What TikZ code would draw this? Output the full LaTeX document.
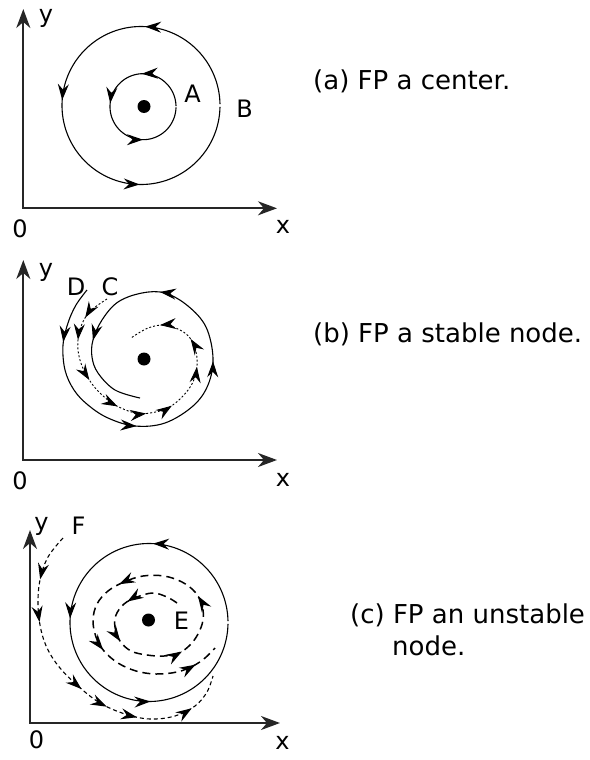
\documentclass[tikz,border=0pt]{standalone}
\usepackage{fontspec}
\setmainfont{DejaVu Sans}
\usetikzlibrary{arrows.meta,decorations.markings}
\tikzset{
  ohead/.tip={Stealth[length=16pt,width=11pt,inset=5.5pt]},
  axhead/.tip={Stealth[length=19pt,width=14pt,inset=6pt]},
  arrowmarks/.style={postaction={decorate},decoration={markings,#1}},
}
\begin{document}
\begin{tikzpicture}[x=1pt,y=-1pt,
  axis/.style={line width=2pt,draw=black!85,line join=miter},
  orbit/.style={line width=1.1pt},
  dashorbit/.style={line width=1.5pt,dash pattern=on 8pt off 5pt},
  dotorbit/.style={line width=0.9pt,dash pattern=on 2pt off 2pt},
  fdash/.style={line width=1.1pt,dash pattern=on 4pt off 3pt},
  lab/.style={font=\fontsize{24}{28}\selectfont,inner sep=0pt},
  captext/.style={font=\fontsize{26}{31}\selectfont,inner sep=0pt},
  fp/.style={circle,fill=black,inner sep=0pt,minimum size=13pt},
  ]
\useasboundingbox (0,0) rectangle (589,760);

% ---------------- panel (a) ----------------
\coordinate (Oa) at (23.3,208.3);
\coordinate (Ya) at (23.3,9);
\coordinate (Xa) at (277,208.3);
\draw[axis,{axhead}-{axhead}] (Ya) -- (Oa) -- (Xa);
\node[lab] (ya) at (46,18) {y};
\node[lab] (za) at (20,229) {0};
\node[lab] (xa) at (283,227) {x};
\draw[orbit,arrowmarks={mark=at position 118.6pt with {\arrow{ohead}},
  mark=at position 241.3pt with {\arrow{ohead}},
  mark=at position 369.5pt with {\arrow{ohead}}}]
  plot[domain=1:359,samples=180,variable=\t] ({141+79*cos(\t)},{105.5-79*sin(\t)});
\draw[orbit,arrowmarks={mark=at position 52.4pt with {\arrow{ohead}},
  mark=at position 99.6pt with {\arrow{ohead}},
  mark=at position 154.9pt with {\arrow{ohead}}}]
  plot[domain=1:359,samples=180,variable=\t] ({143+33*cos(\t)},{106.7-33*sin(\t)});
\node[fp] (fpa) at (144,106.5) {};
\node[lab,anchor=base] (A) at (192.5,102) {A};
\node[lab,anchor=base] (B) at (244.5,117) {B};
\node[captext,anchor=base west] (capa) at (313,89.5) {(a) FP a center.};

% ---------------- panel (b) ----------------
\coordinate (Ob) at (23.3,460);
\coordinate (Yb) at (23.3,260);
\coordinate (Xb) at (277,460);
\draw[axis,{axhead}-{axhead}] (Yb) -- (Ob) -- (Xb);
\node[lab] (yb) at (46,272.5) {y};
\node[lab] (zb) at (20,481) {0};
\node[lab] (xb) at (283,480) {x};
\node[lab] (D) at (76,286.5) {D};
\node[lab] (C) at (110,286.5) {C};
\draw[orbit,arrowmarks={mark=at position 58pt with {\arrow{ohead}},
  mark=at position 182.5pt with {\arrow{ohead}},
  mark=at position 294.7pt with {\arrow{ohead}},
  mark=at position 389.6pt with {\arrow{ohead}},
  mark=at position 480pt with {\arrow{ohead}}}]
  plot[smooth,tension=0.6] coordinates {(87,290) (76,305) (68,323) (63,345) (65,370)
  (74,390) (88,405) (108,418) (135,426) (165,423) (193,406) (208,385) (213,358)
  (206,327) (188,306) (165,293) (142,293) (118,302) (102,320) (93,340) (92,357)
  (98,373) (115,390) (140,398)};
\draw[dotorbit,arrowmarks={mark=at position 29pt with {\arrow{ohead}},
  mark=at position 52.5pt with {\arrow{ohead}},
  mark=at position 95pt with {\arrow{ohead}},
  mark=at position 134pt with {\arrow{ohead}},
  mark=at position 164pt with {\arrow{ohead}},
  mark=at position 191pt with {\arrow{ohead}},
  mark=at position 239pt with {\arrow{ohead}},
  mark=at position 268pt with {\arrow{ohead}},
  mark=at position 303pt with {\arrow{ohead}}}]
  plot[smooth,tension=0.6] coordinates {(107,299) (94,308) (85,318) (79,333) (78,350)
  (82,366) (90,381) (100,393) (115,405) (135,413) (150,413) (168,408) (183,396)
  (193,382) (197,366) (196,352) (190,338) (180,330) (165,325) (148,328) (131,338)};
\node[fp] (fpb) at (144,359) {};
\node[captext,anchor=base west] (capb) at (313,342) {(b) FP a stable node.};

% ---------------- panel (c) ----------------
\coordinate (Oc) at (30,723);
\coordinate (Yc) at (30,530);
\coordinate (Xc) at (280,723);
\draw[axis,{axhead}-{axhead}] (Yc) -- (Oc) -- (Xc);
\node[lab] (yc) at (41.5,526) {y};
\node[lab] (F) at (78.5,525.5) {F};
\node[lab] (zc) at (36.5,740) {0};
\node[lab] (xc) at (282.5,742.5) {x};
\draw[orbit,arrowmarks={mark=at position 118.6pt with {\arrow{ohead}},
  mark=at position 242.7pt with {\arrow{ohead}},
  mark=at position 372.3pt with {\arrow{ohead}}}]
  plot[domain=1:359,samples=180,variable=\t] ({149+79*cos(\t)},{622.5-79*sin(\t)});
\draw[dashorbit,arrowmarks={mark=at position 53.6pt with {\arrow{ohead}},
  mark=at position 99pt with {\arrow{ohead}},
  mark=at position 166pt with {\arrow{ohead}},
  mark=at position 230pt with {\arrow{ohead}},
  mark=at position 317pt with {\arrow{ohead}},
  mark=at position 396pt with {\arrow{ohead}},
  mark=at position 497pt with {\arrow{ohead}}}]
  plot[smooth,tension=0.6] coordinates {(177,603) (167,597) (153,593) (137,597)
  (124,604) (116,615) (115,627) (120,641) (131,651) (147,655) (164,656) (179,653)
  (190,645) (198,634) (203,620) (202,605) (195,592) (182,582) (164,576) (143,576)
  (124,582) (108,591) (97,604) (93,620) (96,637) (104,651) (118,663) (136,671)
  (156,674) (177,672) (193,666) (205,658) (215,648)};
\draw[fdash,arrowmarks={mark=at position 48pt with {\arrow{ohead}},
  mark=at position 91pt with {\arrow{ohead}},
  mark=at position 172pt with {\arrow{ohead}},
  mark=at position 203pt with {\arrow{ohead}},
  mark=at position 235pt with {\arrow{ohead}},
  mark=at position 292pt with {\arrow{ohead}}}]
  plot[smooth,tension=0.6] coordinates {(63,538) (48,557) (40,580) (38,605) (41,630)
  (48,650) (60,668) (78,686) (100,703) (125,714) (150,719) (175,716) (195,706)
  (207,692) (213,676)};
\node[fp] (fpc) at (148.5,620) {};
\node[lab] (E) at (181.5,621) {E};
\node[captext,anchor=base west] (capc1) at (350,623) {(c) FP an unstable};
\node[captext,anchor=base west] (capc2) at (392,655) {node.};
\end{tikzpicture}
\end{document}
